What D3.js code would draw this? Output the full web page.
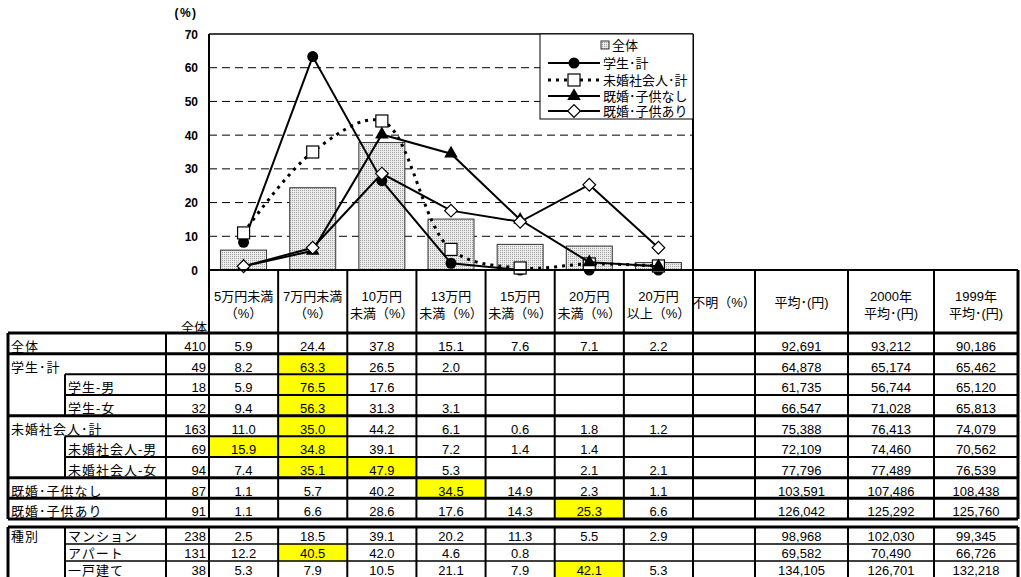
<!DOCTYPE html>
<html><head><meta charset="utf-8">
<script src="https://cdn.jsdelivr.net/npm/d3@7"></script>
<style>
body{margin:0;background:#fff;}
svg{display:block;font-family:"Liberation Sans",Arial,"Noto Sans CJK JP",sans-serif;}
</style></head><body>
<svg id="c" width="1021" height="577"></svg>
<script>
// ---------- data ----------
const categories = ["5万円未満","7万円未満","10万円未満","13万円未満","15万円未満","20万円未満","20万円以上"];
const barName = "全体";
const allValues = [5.9,24.4,37.8,15.1,7.6,7.1,2.2];
const studentValues = [8.2,63.3,26.5,2.0,0,0,0];
const singleWorkerValues = [11.0,35.0,44.2,6.1,0.6,1.8,1.2];
const marriedNoChildValues = [1.1,5.7,40.2,34.5,14.9,2.3,1.1];
const marriedChildValues = [1.1,6.6,28.6,17.6,14.3,25.3,6.6];
const seriesNames = ["学生･計","未婚社会人･計","既婚･子供なし","既婚･子供あり"];
const yTicks = [0,10,20,30,40,50,60,70];
const yUnit = "(%)";

const headerLines = [["5万円未満","（%）"],["7万円未満","（%）"],["10万円","未満（%）"],["13万円","未満（%）"],["15万円","未満（%）"],["20万円","未満（%）"],["20万円","以上（%）"],["不明（%）"],["平均･(円)"],["2000年","平均･(円)"],["1999年","平均･(円)"]];
const countHeader = "全体";

const rowLabels = ["全体","学生･計","学生-男","学生-女","未婚社会人･計","未婚社会人-男","未婚社会人-女","既婚･子供なし","既婚･子供あり"];
const rowIsSub = [false,false,true,true,false,true,true,false,false];
const rowCounts = [410,49,18,32,163,69,94,87,91];
const rowPct = [
  [5.9,24.4,37.8,15.1,7.6,7.1,2.2],
  [8.2,63.3,26.5,2.0,null,null,null],
  [5.9,76.5,17.6,null,null,null,null],
  [9.4,56.3,31.3,3.1,null,null,null],
  [11.0,35.0,44.2,6.1,0.6,1.8,1.2],
  [15.9,34.8,39.1,7.2,1.4,1.4,null],
  [7.4,35.1,47.9,5.3,null,2.1,2.1],
  [1.1,5.7,40.2,34.5,14.9,2.3,1.1],
  [1.1,6.6,28.6,17.6,14.3,25.3,6.6]
];
const rowAvg = [92691,64878,61735,66547,75388,72109,77796,103591,126042];
const rowAvg2000 = [93212,65174,56744,71028,76413,74460,77489,107486,125292];
const rowAvg1999 = [90186,65462,65120,65813,74079,70562,76539,108438,125760];
const rowHighlights = [[],[1],[1],[1],[1],[0,1],[1,2],[3],[5]];

const typeGroupLabel = "種別";
const typeLabels = ["マンション","アパート","一戸建て"];
const typeCounts = [238,131,38];
const typePct = [
  [2.5,18.5,39.1,20.2,11.3,5.5,2.9],
  [12.2,40.5,42.0,4.6,0.8,null,null],
  [5.3,7.9,10.5,21.1,7.9,42.1,5.3]
];
const typeAvg = [98968,69582,134105];
const typeAvg2000 = [102030,70490,126701];
const typeAvg1999 = [99345,66726,132218];
const typeHighlights = [[],[1],[5]];

// ---------- setup ----------
const svg = d3.select("#c");
const plotL = 209, plotR = 693, plotT = 34, plotB = 270;
const y = d3.scaleLinear().domain([0,70]).range([plotB, plotT]);
const xCol = d3.scaleBand().domain(categories).range([plotL, plotR]);
const xBar = d3.scaleBand().domain(categories).range([plotL, plotR]).paddingInner(0.335).paddingOuter(0.1675);
const cx = c => xCol(c) + xCol.bandwidth()/2;
const fmt1 = d3.format(".1f"), fmtN = d3.format(",");

const defs = svg.append("defs");
const pat = defs.append("pattern").attr("id","dots").attr("width",2).attr("height",2).attr("patternUnits","userSpaceOnUse");
pat.append("rect").attr("width",2).attr("height",2).attr("fill","#ececec");
pat.append("rect").attr("width",1).attr("height",1).attr("fill","#a0a0a0");

// ---------- plot ----------
const g = svg.append("g");
g.append("rect").attr("x",plotL).attr("y",plotT).attr("width",plotR-plotL).attr("height",plotB-plotT).attr("fill","#fff");
g.selectAll(".grid").data(yTicks.filter(t=>t>0&&t<70)).join("line")
  .attr("x1",plotL).attr("x2",plotR).attr("y1",d=>y(d)).attr("y2",d=>y(d))
  .attr("stroke","#000").attr("stroke-width",1).attr("stroke-dasharray","8,5");

g.selectAll(".bar").data(allValues).join("rect")
  .attr("x",(d,i)=>xBar(categories[i])).attr("width",xBar.bandwidth())
  .attr("y",d=>y(d)).attr("height",d=>plotB-y(d))
  .attr("fill","url(#dots)").attr("stroke","#333").attr("stroke-width",1);

// y tick labels
g.selectAll(".yt").data(yTicks).join("text")
  .attr("x",198).attr("y",d=>y(d)+4.5).attr("text-anchor","end")
  .attr("font-size",12).attr("font-weight","bold").text(d=>d);
g.append("text").attr("x",186).attr("y",17).attr("text-anchor","middle")
  .attr("font-size",12).attr("font-weight","bold").attr("letter-spacing",1.5).text(yUnit);

// series
const seriesData = [studentValues, singleWorkerValues, marriedNoChildValues, marriedChildValues];
const seriesStyle = [
  {dash:null, width:2, curve:d3.curveLinear, marker:"circle"},
  {dash:"3,5", width:3, curve:d3.curveCatmullRom.alpha(0.5), marker:"square"},
  {dash:null, width:2, curve:d3.curveLinear, marker:"triangle"},
  {dash:null, width:2, curve:d3.curveLinear, marker:"diamond"}
];
function drawMarker(sel, type, px, py){
  if(type==="circle") sel.append("circle").attr("cx",px).attr("cy",py).attr("r",5.5).attr("fill","#000");
  else if(type==="square") sel.append("rect").attr("x",px-6).attr("y",py-6).attr("width",12).attr("height",12).attr("fill","#fff").attr("stroke","#000").attr("stroke-width",1.2);
  else if(type==="triangle") sel.append("path").attr("d",d3.symbol(d3.symbolTriangle,80)()).attr("transform",`translate(${px},${py})`).attr("fill","#000");
  else if(type==="diamond") sel.append("path").attr("d",d3.symbol(d3.symbolSquare,80)()).attr("transform",`translate(${px},${py}) rotate(45)`).attr("fill","#fff").attr("stroke","#000").attr("stroke-width",1.2);
}
seriesData.forEach((vals,si)=>{
  const st = seriesStyle[si];
  const line = d3.line().x((d,i)=>cx(categories[i])).y(d=>y(d)).curve(st.curve);
  const sg = g.append("g");
  sg.append("path").attr("d",line(vals)).attr("fill","none").attr("stroke","#000")
    .attr("stroke-width",st.width).attr("stroke-dasharray",st.dash);
  vals.forEach((v,i)=>drawMarker(sg, st.marker, cx(categories[i]), y(v)));
});

// frame
g.append("line").attr("x1",plotL).attr("x2",plotR).attr("y1",plotT).attr("y2",plotT).attr("stroke","#000").attr("stroke-width",1.5);
g.append("line").attr("x1",plotL).attr("x2",plotL).attr("y1",plotT).attr("y2",plotB).attr("stroke","#000").attr("stroke-width",2);
g.append("line").attr("x1",plotR).attr("x2",plotR).attr("y1",plotT).attr("y2",plotB).attr("stroke","#000").attr("stroke-width",2);

// legend
const lg = svg.append("g");
lg.append("rect").attr("x",540).attr("y",plotT).attr("width",plotR-540).attr("height",85).attr("fill","#fff").attr("stroke","#000").attr("stroke-width",1);
lg.append("rect").attr("x",601).attr("y",41).attr("width",8).attr("height",8).attr("fill","url(#dots)").attr("stroke","#333");
lg.append("text").attr("x",612).attr("y",50).attr("font-size",13).text(barName);
const legY = [63,80,96,111];
seriesNames.forEach((n,i)=>{
  const st = seriesStyle[i];
  lg.append("line").attr("x1",548).attr("x2",600).attr("y1",legY[i]).attr("y2",legY[i]).attr("stroke","#000")
    .attr("stroke-width",st.width).attr("stroke-dasharray",st.dash);
  drawMarker(lg, st.marker, 574, legY[i]);
  lg.append("text").attr("x",603).attr("y",legY[i]+5).attr("font-size",13).text(n);
});

// ---------- table ----------
const tg = svg.append("g");
const colEdges = categories.map(c=>xCol(c)).concat([693,755,848,934,1018]);
const allColsL = colEdges.slice(0,-1), allColsR = colEdges.slice(1);
const tblL = 8, subL = 65, cntL = 166;
const upTop = 333, rh = 20.67;
const loTop = 527, lrh = 17;

function rowCells(pct, avg, a2000, a1999){
  return pct.map(v=>v==null?"":fmt1(v)).concat(["", fmtN(avg), fmtN(a2000), fmtN(a1999)]);
}
function drawRow(top, h, label, isSub, count, cells, hl){
  const base = top + h - 2.8;
  hl.forEach(ci=>{
    tg.append("rect").attr("x",allColsL[ci]).attr("y",top).attr("width",allColsR[ci]-allColsL[ci]).attr("height",h).attr("fill","#ffff00");
  });
  if(label) tg.append("text").attr("x",isSub?68:11).attr("y",base).attr("font-size",13).attr("letter-spacing",1).text(label);
  tg.append("text").attr("x",206).attr("y",base).attr("text-anchor","end").attr("font-size",13).text(count);
  cells.forEach((t,ci)=>{
    if(t) tg.append("text").attr("x",(allColsL[ci]+allColsR[ci])/2).attr("y",base).attr("text-anchor","middle").attr("font-size",13).text(t);
  });
}
rowLabels.forEach((lab,i)=>{
  drawRow(upTop+i*rh, rh, lab, rowIsSub[i], rowCounts[i], rowCells(rowPct[i],rowAvg[i],rowAvg2000[i],rowAvg1999[i]), rowHighlights[i]);
});
typeLabels.forEach((lab,i)=>{
  drawRow(loTop+i*lrh, lrh, lab, true, typeCounts[i], rowCells(typePct[i],typeAvg[i],typeAvg2000[i],typeAvg1999[i]), typeHighlights[i]);
});
tg.append("text").attr("x",11).attr("y",loTop+lrh-2.8).attr("font-size",13).attr("letter-spacing",1).text(typeGroupLabel);

// header text
headerLines.forEach((lines,ci)=>{
  const xm = (allColsL[ci]+allColsR[ci])/2;
  const ys = lines.length===2 ? [301,318] : [307];
  lines.forEach((t,k)=>tg.append("text").attr("x",xm).attr("y",ys[k]).attr("text-anchor","middle").attr("font-size",13).text(t));
});
tg.append("text").attr("x",207).attr("y",332).attr("text-anchor","end").attr("font-size",13).text(countHeader);

// table lines
function hl(x1,x2,yy,w){tg.append("line").attr("x1",x1).attr("x2",x2).attr("y1",yy).attr("y2",yy).attr("stroke","#000").attr("stroke-width",w);}
function vl(xx,y1,y2,w){tg.append("line").attr("x1",xx).attr("x2",xx).attr("y1",y1).attr("y2",y2).attr("stroke","#000").attr("stroke-width",w);}
const upBot = upTop + rowLabels.length*rh;
hl(plotL, 1018, plotB, 2);
hl(tblL, 1018, upTop, 3);
rowLabels.forEach((lab,i)=>{
  const yy = upTop+(i+1)*rh;
  const nextSub = i+1<rowLabels.length && rowIsSub[i+1];
  const groupEnd = !nextSub;
  hl(nextSub?subL:tblL, 1018, yy, groupEnd?3:2);
});
vl(tblL, upTop, upBot, 3);
rowIsSub.forEach((s,i)=>{ if(s) vl(subL, upTop+i*rh, upTop+(i+1)*rh, 2); });
vl(cntL, upTop, upBot, 2);
colEdges.forEach((xx,k)=>vl(xx, plotB, upBot, k===colEdges.length-1?3:2));
// lower table
const loBot = loTop + typeLabels.length*lrh;
hl(tblL, 1018, loTop, 3);
typeLabels.forEach((l,i)=>hl(subL,1018,loTop+(i+1)*lrh,1.5));
vl(tblL, loTop, loBot, 3);
vl(subL, loTop, loBot, 2);
vl(cntL, loTop, loBot, 2);
colEdges.forEach((xx,k)=>vl(xx, loTop, loBot, k===colEdges.length-1?3:2));
</script>
</body></html>
